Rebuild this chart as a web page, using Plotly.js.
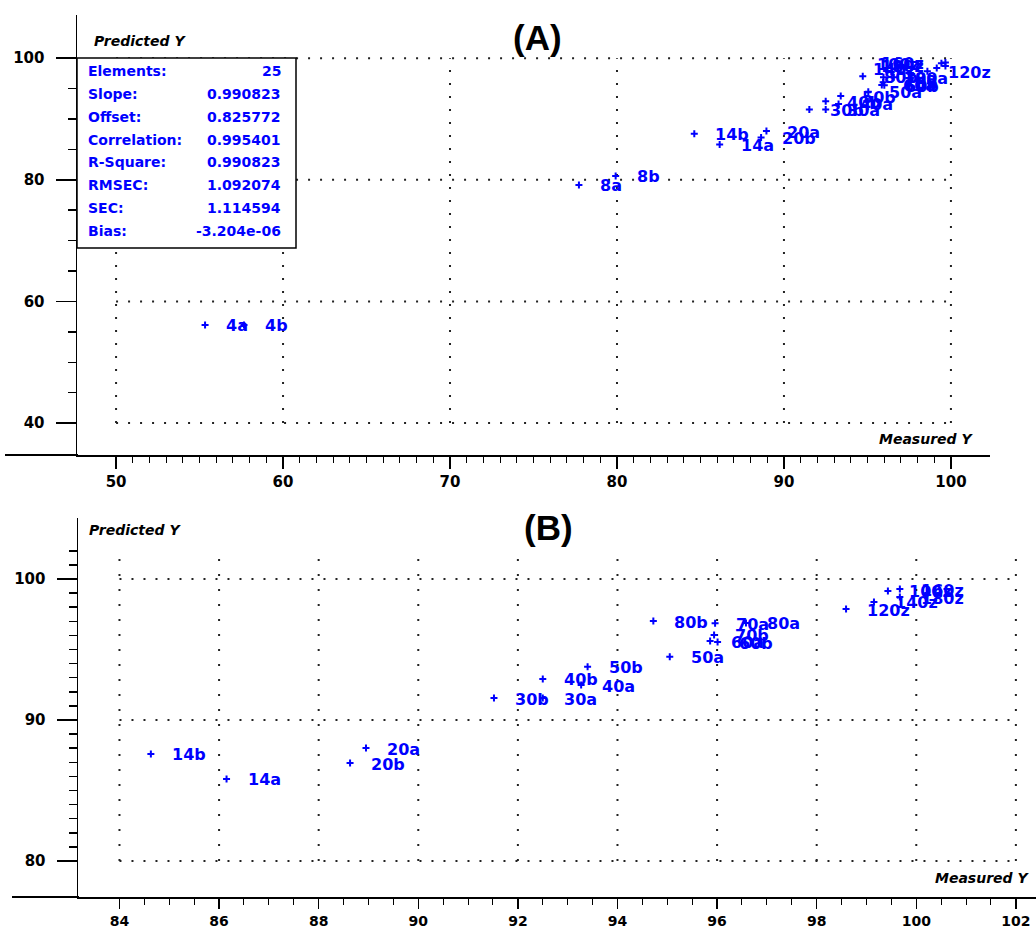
<!DOCTYPE html>
<html><head><meta charset="utf-8">
<script src="https://cdn.plot.ly/plotly-3.0.1.min.js"></script>
<style>html,body{margin:0;padding:0;background:#fff}#chart{width:1036px;height:930px}</style>
</head><body><div id="chart"></div><script>
// ---- data ----
const sampleLabels = ['4a','4b','8a','8b','14a','14b','20a','20b','30a','30b','40a','40b','50a','50b','60a','60b','70a','70b','80a','80b','120z','140z','100z','160z','180z'];
const measuredY  = [55.33,57.66,77.72,79.92,86.15,84.63,88.95,88.63,92.50,91.52,93.27,92.50,95.05,93.40,95.86,96.01,95.96,95.94,96.58,94.72,98.59,99.15,99.43,99.67,99.67];
const predictedY = [56.13,56.13,79.16,80.64,85.82,87.59,88.01,86.95,91.56,91.56,92.48,92.91,94.49,93.78,95.60,95.53,96.86,96.03,96.88,97.02,97.87,98.37,99.15,99.29,98.72];
const statNames  = ['Elements:','Slope:','Offset:','Correlation:','R-Square:','RMSEC:','SEC:','Bias:'];
const statValues = ['25','0.990823','0.825772','0.995401','0.990823','1.092074','1.114594','-3.204e-06'];
const xTicksA = [50,60,70,80,90,100];
const yTicksA = [40,60,80,100];
const xTicksB = [84,86,88,90,92,94,96,98,100,102];
const yTicksB = [80,90,100];
const panelTitles = ['(A)','(B)'];
const axisTitleY = 'Predicted Y', axisTitleX = 'Measured Y';

// ---- helpers ----
const W = 1036, H = 930;
const PX = x => x / W, PY = y => 1 - y / H;
const BLUE = '#0000ff';
const seq = (a, b, s) => { const r = []; for (let v = a; v <= b + 1e-9; v += s) r.push(+v.toFixed(4)); return r; };

function xAxis(domain, range, ticks, minorStep, anchor, tlen, fsize) {
  return {domain, range, anchor, tickmode: 'array', tickvals: ticks, ticktext: ticks.map(String),
    showgrid: false, zeroline: false, showline: true, linecolor: '#000', linewidth: 2,
    ticks: 'outside', ticklen: tlen, tickwidth: 1.5, tickcolor: '#000',
    tickfont: {family: 'DejaVu Sans', size: fsize, color: '#000', weight: 700},
    minor: {tickmode: 'array', tickvals: seq(ticks[0], ticks[ticks.length-1], minorStep), ticks: 'outside', ticklen: 6, tickwidth: 1, tickcolor: '#000', showgrid: false},
    fixedrange: true};
}
function yAxis(domain, range, ticks, minorStep, minorEnd, anchor) {
  return {domain, range, anchor, tickmode: 'array', tickvals: ticks, ticktext: ticks.map(String),
    showgrid: false, zeroline: false, showline: true, linecolor: '#000', linewidth: 1.5,
    ticks: 'outside', ticklen: 20, tickwidth: 1.5, tickcolor: '#000',
    tickfont: {family: 'DejaVu Sans', size: 15, color: '#000', weight: 700}, ticklabelstandoff: 8,
    minor: {tickmode: 'array', tickvals: seq(ticks[0], minorEnd, minorStep), ticks: 'outside', ticklen: 8, tickwidth: 1.5, tickcolor: '#000', showgrid: false},
    fixedrange: true};
}

const layout = {
  width: W, height: H, margin: {l: 0, r: 0, t: 0, b: 0},
  paper_bgcolor: '#fff', plot_bgcolor: '#fff', showlegend: false,
  xaxis:  xAxis([77/W, 990/W], [47.66, 102.34], xTicksA, 1, 'y', 12, 15),
  yaxis:  yAxis([PY(455), PY(15)], [34.75, 107.1], yTicksA, 5, 100, 'x'),
  xaxis2: xAxis([78/W, 1], [83.167, 102.404], xTicksB, 0.5, 'y2', 10, 14),
  yaxis2: yAxis([PY(897), PY(518)], [77.447, 104.326], yTicksB, 1, 102, 'x2'),
  shapes: [], annotations: []
};

// dotted grids (subplot-referenced, drawn under the markers)
function grid(xr, yr, xt, yt, top, vdash) {
  xt.forEach(v => layout.shapes.push({type: 'line', xref: xr, yref: yr, x0: v, x1: v, y0: yt[0], y1: top,
    line: {color: '#222', width: 2, dash: vdash}, layer: 'below'}));
  yt.forEach(v => layout.shapes.push({type: 'line', xref: xr, yref: yr, x0: xt[0], x1: xt[xt.length-1], y0: v, y1: v,
    line: {color: '#222', width: 2, dash: '2px,10px'}, layer: 'below'}));
}
grid('x', 'y', xTicksA, yTicksA, yTicksA[yTicksA.length-1], '2px,11px');
grid('x2', 'y2', xTicksB, yTicksB, 102, '2px,13px');

// statistics box (drawn above the grid; it covers no data points)
layout.shapes.push({type: 'rect', xref: 'paper', yref: 'paper', x0: PX(77), x1: PX(296), y0: PY(248), y1: PY(58),
  line: {color: '#000', width: 1.5}, fillcolor: '#fff', layer: 'above'});

// x-axis line extensions to the left
layout.shapes.push({type: 'line', xref: 'paper', yref: 'paper', x0: PX(5), x1: PX(78), y0: PY(455), y1: PY(455), line: {color: '#000', width: 2}});
layout.shapes.push({type: 'line', xref: 'paper', yref: 'paper', x0: PX(12), x1: PX(79), y0: PY(897), y1: PY(897), line: {color: '#000', width: 2}});

const statFont = {family: 'DejaVu Sans', size: 14, color: BLUE, weight: 700};
statNames.forEach((n, i) => {
  const y = 71 + i * 22.86;
  layout.annotations.push({xref: 'paper', yref: 'paper', x: PX(86), y: PY(y), text: n, showarrow: false, xanchor: 'left', yanchor: 'middle', font: statFont});
  layout.annotations.push({xref: 'paper', yref: 'paper', x: PX(283), y: PY(y), text: statValues[i], showarrow: false, xanchor: 'right', yanchor: 'middle', font: statFont});
});

// axis captions and panel titles
const capFont = {family: 'DejaVu Sans', size: 14, color: '#000', weight: 700, style: 'italic'};
[[92, 41, axisTitleY], [877, 439, axisTitleX], [87, 530, axisTitleY], [933, 878, axisTitleX]].forEach(c =>
  layout.annotations.push({xref: 'paper', yref: 'paper', x: PX(c[0]), y: PY(c[1]), text: c[2], showarrow: false, xanchor: 'left', yanchor: 'middle', font: capFont}));
[[537, 37], [548, 527]].forEach((c, i) =>
  layout.annotations.push({xref: 'paper', yref: 'paper', x: PX(c[0]), y: PY(c[1]), text: panelTitles[i], showarrow: false, xanchor: 'center', yanchor: 'middle',
    font: {family: 'Liberation Sans', size: 35, color: '#000', weight: 700}}));

// point labels: right of the point, flipped to the left if they would run past the plot edge
const labFont = {family: 'DejaVu Sans', size: 16, color: BLUE, weight: 700};
function addLabels(xr, yr, xa, ya) {
  const d0 = xa.domain[0] * W, d1 = xa.domain[1] * W;
  sampleLabels.forEach((t, i) => {
    const x = measuredY[i], y = predictedY[i];
    if (x < xa.range[0] || x > xa.range[1] || y < ya.range[0] || y > ya.range[1]) return;
    const px = d0 + (x - xa.range[0]) / (xa.range[1] - xa.range[0]) * (d1 - d0);
    const flip = px + 20 + t.length * 10.3 > d1 + 1;
    layout.annotations.push({xref: xr, yref: yr, x, y, text: t, showarrow: false,
      xanchor: flip ? 'right' : 'left', yanchor: 'middle', xshift: flip ? -19 : 19, yshift: -1, font: labFont});
  });
}
addLabels('x', 'y', layout.xaxis, layout.yaxis);
addLabels('x2', 'y2', layout.xaxis2, layout.yaxis2);

const mk = {symbol: 'cross-thin', size: 5, color: BLUE, line: {color: BLUE, width: 2}};
const data = [
  {type: 'scatter', mode: 'markers', x: measuredY, y: predictedY, xaxis: 'x', yaxis: 'y', marker: mk, hoverinfo: 'skip'},
  {type: 'scatter', mode: 'markers', x: measuredY, y: predictedY, xaxis: 'x2', yaxis: 'y2', marker: mk, hoverinfo: 'skip'}
];
Plotly.newPlot('chart', data, layout, {staticPlot: true, displayModeBar: false});
</script></body></html>
